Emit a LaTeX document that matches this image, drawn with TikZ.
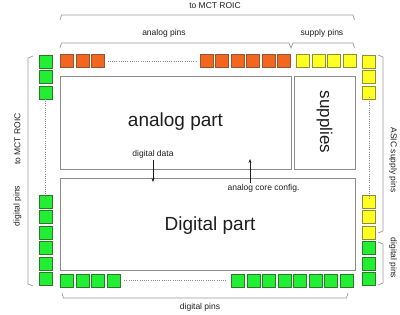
\documentclass[tikz,border=0pt]{standalone}
\usepackage{fontspec}
\setmainfont{Liberation Sans}
\usetikzlibrary{arrows.meta}
\definecolor{pinorange}{HTML}{F4651F}
\definecolor{pinorangeb}{HTML}{8E5632}
\definecolor{pingreen}{HTML}{22EE33}
\definecolor{pingreenb}{HTML}{2A7A2A}
\definecolor{pinyellow}{HTML}{FFFF22}
\definecolor{pinyellowb}{HTML}{8E8E3A}
\definecolor{boxgray}{HTML}{8C8C8C}
\definecolor{brgray}{HTML}{9A9A9A}
\definecolor{txt}{HTML}{1E1E1E}
\tikzset{
  pin/.style={draw, line width=0.6pt, minimum size=13pt, inner sep=0pt, anchor=north west},
  opin/.style={pin, fill=pinorange, draw=pinorangeb},
  gpin/.style={pin, fill=pingreen, draw=pingreenb},
  ypin/.style={pin, fill=pinyellow, draw=pinyellowb},
  part/.style={draw=boxgray, line width=0.8pt, anchor=north west, inner sep=0pt},
  bigtxt/.style={font=\fontsize{19}{19}\selectfont, text=txt},
  smalltxt/.style={font=\fontsize{8.5}{9}\selectfont, text=txt, inner sep=1pt},
  bracket/.style={draw=brgray, line width=0.7pt},
  dots/.style={draw=boxgray, line width=0.6pt, dash pattern=on 1pt off 1.2pt},
  arr/.style={draw=txt, line width=0.6pt, -{Stealth[length=4pt,width=3pt]}}
}
\begin{document}
\begin{tikzpicture}[x=1pt,y=-1pt]
\useasboundingbox (0,0) rectangle (400,315);
% boxes
\node[part, minimum width=231pt, minimum height=93pt] (analog) at (60,76) {};
\node[bigtxt] (analogt) at (175.5,122) {analog part};
\node[part, minimum width=61pt, minimum height=93pt] (supp) at (294,76) {};
\node[bigtxt, rotate=-90, font=\fontsize{17}{17}\selectfont] (suppt) at (324.5,122) {supplies};
\node[part, minimum width=295pt, minimum height=92pt] (digital) at (60,178) {};
\node[bigtxt] (digitalt) at (210,226) {Digital part};
% top pins
\foreach \x [count=\i] in {60,75.5,91} \node[opin] (to\i) at (\x,54.5) {};
\foreach \x [count=\i] in {199.5,215,230.5,246,261.5,277} \node[opin] (tor\i) at (\x,54.5) {};
\foreach \x [count=\i] in {296,311.5,327,342.5} \node[ypin] (ty\i) at (\x,54.5) {};
% left column
\foreach \y [count=\i] in {55,70.5,86} \node[gpin] (lu\i) at (38.5,\y) {};
\foreach \y [count=\i] in {195,210.5,226,241.5,257,272.5} \node[gpin] (ll\i) at (38.5,\y) {};
% right column
\foreach \y [count=\i] in {55,70.5,86} \node[ypin] (ru\i) at (362,\y) {};
\foreach \y [count=\i] in {195,210.5,226} \node[ypin] (rl\i) at (362,\y) {};
\foreach \y [count=\i] in {241.5,257,272.5} \node[gpin] (rg\i) at (362,\y) {};
% bottom row
\foreach \x [count=\i] in {60,75.5,91,106.5} \node[gpin] (bl\i) at (\x,274) {};
\foreach \x [count=\i] in {231,246.5,262,277.5,293,308.5,324,339.5} \node[gpin] (br\i) at (\x,274) {};
% dotted lines
\draw[dots] ([xshift=3pt]to3.east) -- ([xshift=-3pt]tor1.west);
\draw[dots] ([yshift=3pt]lu3.south) -- ([yshift=-3pt]ll1.north);
\draw[dots] ([yshift=3pt]ru3.south) -- ([yshift=-3pt]rl1.north);
\draw[dots] ([xshift=4pt]bl4.east) -- ([xshift=-4pt]br1.west);
% brackets
\draw[bracket] (60,20) -- (61.5,15) -- (353,15) -- (354.5,20);
\node[smalltxt] (mct) at (215,5.5) {to MCT ROIC};
\draw[bracket] (60,48) -- (61.5,43) -- (289,43) -- (291,48) -- (293,43) -- (353,43) -- (354.5,48);
\node[smalltxt] (apins) at (164,33.5) {analog pins};
\node[smalltxt] (spins) at (322,33.5) {supply pins};
\draw[bracket] (33,56) -- (28,58) -- (28,284) -- (33,286);
\node[smalltxt, rotate=90] (lmct) at (17.5,139) {to MCT ROIC};
\node[smalltxt, rotate=90] (ldig) at (17.5,206) {digital pins};
\draw[bracket] (378,55) -- (383,57) -- (383,231) -- (378,233);
\node[smalltxt, rotate=-90] (rasic) at (393,160) {ASIC supply pins};
\draw[bracket] (378,242) -- (383,244) -- (383,283) -- (378,285);
\node[smalltxt, rotate=-90] (rdig) at (393,258) {digital pins};
\draw[bracket] (62,293) -- (63.5,298) -- (346.5,298) -- (348,293);
\node[smalltxt] (bdig) at (200,307) {digital pins};
% arrows
\node[smalltxt] (ddata) at (153,154.5) {digital data};
\coordinate (ddend) at (153,182);
\draw[arr] (ddata.south) -- (ddend);
\node[smalltxt] (acc) at (263.5,188) {analog core config.};
\coordinate (accend) at (250,159);
\draw[arr] (acc.north -| accend) -- (accend);
\end{tikzpicture}
\end{document}
